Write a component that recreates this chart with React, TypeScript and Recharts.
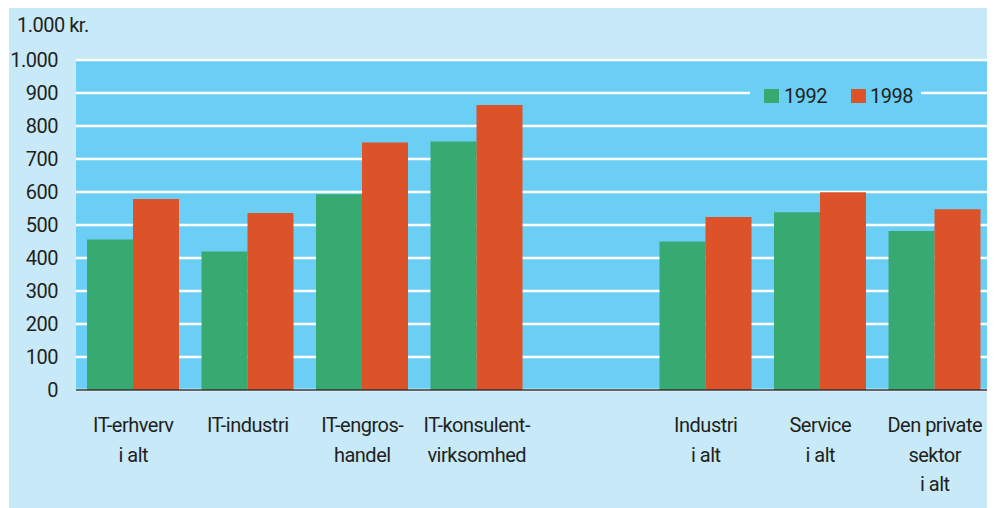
import React from 'react'
import { BarChart, Bar, XAxis, YAxis, CartesianGrid, Legend } from 'recharts'

// categories (\n = line break in the axis label), '' is the empty spacer slot
const categories = [
  'IT-erhverv\ni alt',
  'IT-industri',
  'IT-engros-\nhandel',
  'IT-konsulent-\nvirksomhed',
  '',
  'Industri\ni alt',
  'Service\ni alt',
  'Den private\nsektor\ni alt',
]
const values1992 = [456, 420, 593, 753, null, 450, 539, 482]
const values1998 = [579, 536, 750, 864, null, 524, 599, 548]
const yTicks = [0, 100, 200, 300, 400, 500, 600, 700, 800, 900, 1000]
const series = ['1992', '1998']
const unitLabel = '1.000 kr.'

const data = categories.map((name, i) => ({
  name,
  v1992: values1992[i],
  v1998: values1998[i],
}))

const FONT = 'Roboto, "Noto Sans", sans-serif'
const FS = 20
const LS = -0.5
const TEXT = '#231f20'
const GREEN = '#37aa72'
const RED = '#dc5229'
const PLOT_BG = '#6bcff5'
const PANEL_BG = '#c7e9f8'

const fmt = (v: number) => (v >= 1000 ? v.toLocaleString('da-DK') : String(v))

const CategoryTick = (props: any) => {
  const { x, y, payload } = props
  const lines = String(payload.value).split('\n')
  return (
    <text
      x={x}
      y={y}
      textAnchor="middle"
      fill={TEXT}
      fontSize={FS}
      fontFamily={FONT}
      letterSpacing={LS}
    >
      {lines.map((l, i) => (
        <tspan key={i} x={x} y={y + 42 + i * 29.5}>
          {l}
        </tspan>
      ))}
    </text>
  )
}

const LegendBox = () => (
  <div
    style={{
      background: PLOT_BG,
      height: 20,
      width: 171,
      display: 'flex',
      alignItems: 'center',
      fontFamily: FONT,
      fontSize: FS,
      letterSpacing: LS,
      color: TEXT,
    }}
  >
    <span style={{ width: 15, height: 14, background: GREEN, marginLeft: 14 }} />
    <span style={{ marginLeft: 5 }}>{series[0]}</span>
    <span style={{ width: 15, height: 14, background: RED, marginLeft: 24 }} />
    <span style={{ marginLeft: 4 }}>{series[1]}</span>
  </div>
)

const App = () => {
  return (
    <div
      style={{
        position: 'relative',
        width: 983,
        height: 501,
        marginLeft: 1,
        marginTop: -1,
        background: PANEL_BG,
      }}
    >
      <div
        style={{
          position: 'absolute',
          left: 8,
          top: 8,
          fontFamily: FONT,
          fontSize: FS,
          lineHeight: '20px',
          letterSpacing: LS,
          color: TEXT,
          whiteSpace: 'nowrap',
        }}
      >
        {unitLabel}
      </div>
      <BarChart
        width={983}
        height={501}
        data={data}
        margin={{ top: 53, right: 0, left: 0, bottom: 0 }}
        barCategoryGap={11}
        barGap={0}
      >
        <CartesianGrid
          vertical={false}
          stroke="#ffffff"
          strokeWidth={2.5}
          fill={PLOT_BG}
          fillOpacity={1}
        />
        <YAxis
          type="number"
          domain={[0, 1000]}
          ticks={yTicks}
          width={67}
          axisLine={false}
          tickLine={false}
          tickSize={0}
          tickMargin={18}
          tickFormatter={fmt}
          tick={{ fill: TEXT, fontSize: FS, fontFamily: FONT, letterSpacing: LS }}
        />
        <XAxis
          dataKey="name"
          height={118}
          interval={0}
          tickLine={false}
          tickSize={0}
          tickMargin={0}
          axisLine={{ stroke: '#333333', strokeWidth: 1.5 }}
          tick={<CategoryTick />}
        />
        <Legend
          layout="horizontal"
          verticalAlign="middle"
          align="center"
          content={<LegendBox />}
          wrapperStyle={{ left: 741, top: 79, width: 171 }}
        />
        <Bar dataKey="v1992" name={series[0]} fill={GREEN} isAnimationActive={false} />
        <Bar dataKey="v1998" name={series[1]} fill={RED} isAnimationActive={false} />
      </BarChart>
    </div>
  )
}

export default App
